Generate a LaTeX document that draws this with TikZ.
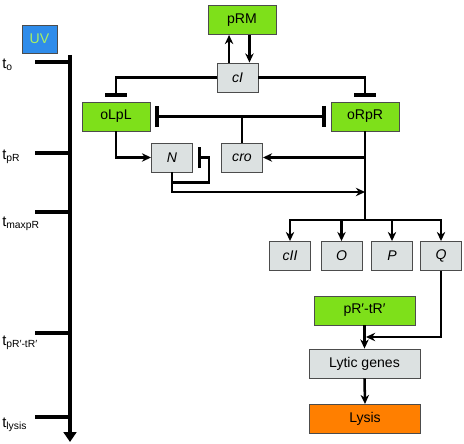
\documentclass[tikz,border=0pt]{standalone}
\usepackage{fontspec}
\setmainfont{Liberation Sans}
\usetikzlibrary{arrows.meta}
\definecolor{promgreen}{HTML}{7EE01A}
\definecolor{genegrey}{HTML}{DCE1E1}
\definecolor{lysisorange}{HTML}{FF7F00}
\definecolor{uvblue}{HTML}{2F8CEA}
\definecolor{uvtext}{HTML}{A8F064}
\tikzset{
  box/.style={draw=black!70, line width=0.5pt, inner sep=0pt, minimum height=0.73cm, font=\fontsize{10}{12}\selectfont},
  promoter/.style={box, fill=promgreen, minimum width=1.7cm},
  gene/.style={box, fill=genegrey, minimum width=1.03cm, font=\fontsize{10}{12}\selectfont\itshape},
  link/.style={line width=1.8pt},
  act/.style={link, -{Stealth[length=6.5pt,width=6pt]}},
  inhib/.style={link, -{Bar[width=15pt,line width=2.4pt]}, shorten >=3.5pt},
  tick/.style={line width=2.5pt},
  tlabel/.style={anchor=west, inner sep=0pt, font=\fontsize{10.5}{12}\selectfont}
}
\begin{document}
\begin{tikzpicture}[x=0.025cm, y=-0.025cm]
\useasboundingbox (0,0) rectangle (464,444);
\node  (UV)[box, fill=uvblue, text=uvtext, minimum width=0.875cm, minimum height=0.7cm] at (39.5,39) {UV};
\node  (pRM)[promoter]  at (242,20) {pRM};
\node  (cI)[gene]  at (237.5,77.5) {cI};
\node  (oLpL)[promoter]  at (116,116.5) {oLpL};
\node  (oRpR)[promoter]  at (365,116.5) {oRpR};
\node  (N)[gene]  at (172,157.5) {N};
\node  (cro)[gene]  at (242,157.5) {cro};
\node  (cII)[gene]  at (290,256) {cII};
\node  (O)[gene]  at (341.5,256) {O};
\node  (P)[gene]  at (392,256) {P};
\node  (Q)[gene]  at (441,256) {Q};
\node  (pRtR)[promoter, minimum width=2.525cm]  at (364.5,310.5) {pR′-tR′};
\node  (lytic)[box, fill=genegrey, minimum width=2.775cm]  at (364.5,363.5) {Lytic genes};
\node  (lysis)[box, fill=lysisorange, minimum width=2.775cm]  at (365,419) {Lysis};
\coordinate (join) at (365,192);
\coordinate (split) at (365,220);
\coordinate (merge) at (366,337);
\coordinate (top) at (70,55);
\coordinate (bottom) at (70,442);
\coordinate (to) at (35,62);
\coordinate (tpR) at (35,153);
\coordinate (tmax) at (35,212);
\coordinate (tpRp) at (35,333);
\coordinate (tlysis) at (35,417);
\draw[tick, -{Triangle[width=9pt,length=7pt]}] (top) -- (bottom);
\draw[tick] (to) -- (to -| top);
\draw[tick] (tpR) -- (tpR -| top);
\draw[tick] (tmax) -- (tmax -| top);
\draw[tick] (tpRp) -- (tpRp -| top);
\draw[tick] (tlysis) -- (tlysis -| top);
\node  (lo)[tlabel] at (2,65) {t\textsubscript{o}};
\node  (lpR)[tlabel] at (2,157) {t\textsubscript{pR}};
\node  (lmax)[tlabel] at (2,224) {t\textsubscript{maxpR}};
\node  (lpRp)[tlabel] at (2,343) {t\textsubscript{pR′-tR′}};
\node  (llysis)[tlabel] at (2,425) {t\textsubscript{lysis}};
\draw[act] ([xshift=-6pt]cI.north) -- ([xshift=-6pt]cI.north |- pRM.south);
\draw[act] ([xshift=5.3pt]pRM.south) -- ([xshift=5.3pt]pRM.south |- cI.north);
\draw[inhib] (cI.west) -| (oLpL.north);
\draw[inhib] (cI.east) -| (oRpR.north);
\draw[inhib, {Bar[width=15pt,line width=2.4pt]}-{Bar[width=15pt,line width=2.4pt]}, shorten <=3.5pt] (oLpL.east) -- (oRpR.west);
\draw[link] (cro.north) -- (cro.north |- oLpL.east);
\draw[act] (oLpL.south) |- (N.west);
\draw[inhib] (N.south) -- ++(0,10) -- ++(37,0) |- (N.east);
\draw[act] (N.south) |- (join);
\draw[link] (oRpR.south) -- (split);
\draw[act] (oRpR.south |- cro.east) -- (cro.east);
\draw[act] (split) -| (cII.north);
\draw[act] (split) -| (O.north);
\draw[act] (split) -| (P.north);
\draw[act] (split) -| (Q.north);
\draw[act] (Q.south) |- (merge);
\draw[act] (pRtR.south) -- (lytic.north);
\draw[act] (lytic.south) -- (lysis.north);
\end{tikzpicture}
\end{document}
